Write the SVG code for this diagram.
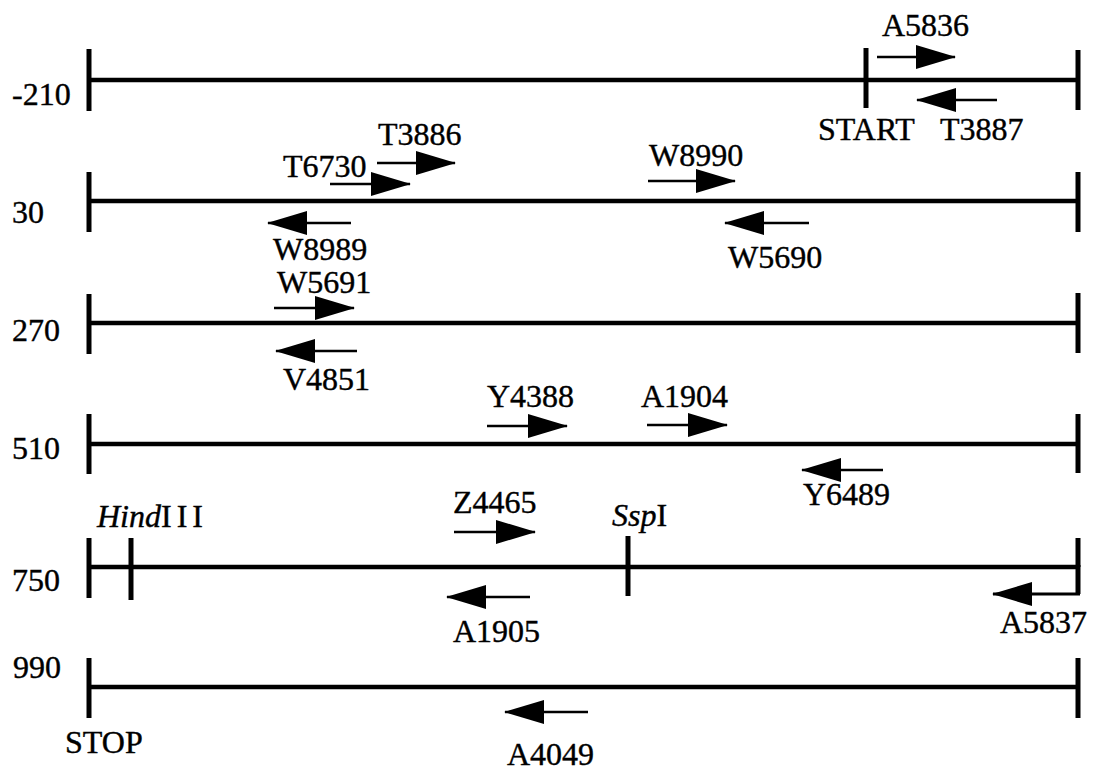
<svg xmlns="http://www.w3.org/2000/svg" width="1097" height="778" viewBox="0 0 1097 778">
<style>
text{font-family:"Liberation Serif","Times New Roman",serif;font-size:32px;fill:#000;stroke:#000;stroke-width:0.4}
.it{font-style:italic}
.bb{stroke:#000;stroke-width:4.5;fill:none;stroke-linecap:butt}
.tk{stroke:#000;stroke-width:5;fill:none}
.ar{stroke:#000;stroke-width:2.5;fill:none;marker-end:url(#h)}
</style>
<defs>
<marker id="h" markerUnits="userSpaceOnUse" viewBox="0 0 40 24" markerWidth="40" markerHeight="24" refX="39" refY="12" orient="auto">
<path d="M0,0 L40,12 L0,24 Z" fill="#000"/>
</marker>
</defs>
<rect width="1097" height="778" fill="#fff"/>
<g id="row1">
<line class="bb" x1="89" y1="80" x2="1078" y2="80"/>
<line class="tk" x1="89" y1="49" x2="89" y2="111"/>
<line class="tk" x1="866" y1="48" x2="866" y2="108"/>
<line class="tk" x1="1078" y1="50" x2="1078" y2="110"/>
<text x="12" y="105">-210</text>
<text x="818" y="140">START</text>
</g>
<g id="row2">
<line class="bb" x1="89" y1="201" x2="1078" y2="201"/>
<line class="tk" x1="89" y1="172" x2="89" y2="232"/>
<line class="tk" x1="1078" y1="172" x2="1078" y2="232"/>
<text x="12" y="223">30</text>
</g>
<g id="row3">
<line class="bb" x1="89" y1="323" x2="1078" y2="323"/>
<line class="tk" x1="89" y1="294" x2="89" y2="354"/>
<line class="tk" x1="1078" y1="293" x2="1078" y2="353"/>
<text x="12" y="341">270</text>
</g>
<g id="row4">
<line class="bb" x1="89" y1="444" x2="1078" y2="444"/>
<line class="tk" x1="89" y1="414" x2="89" y2="474"/>
<line class="tk" x1="1078" y1="414" x2="1078" y2="473"/>
<text x="12" y="459">510</text>
</g>
<g id="row5">
<line class="bb" x1="89" y1="567" x2="1078" y2="567"/>
<line class="tk" x1="89" y1="538" x2="89" y2="598"/>
<line class="tk" x1="131" y1="538" x2="131" y2="600"/>
<line class="tk" x1="628" y1="536" x2="628" y2="596"/>
<line class="tk" x1="1078" y1="538" x2="1078" y2="567"/>
<text x="12" y="591">750</text>
<text x="97" y="527"><tspan class="it">Hind</tspan><tspan letter-spacing="5">III</tspan></text>
<text x="612" y="526"><tspan class="it">Ssp</tspan>I</text>
</g>
<g id="row6">
<line class="bb" x1="89" y1="687" x2="1078" y2="687"/>
<line class="tk" x1="89" y1="658" x2="89" y2="718"/>
<line class="tk" x1="1078" y1="658" x2="1078" y2="718"/>
<text x="13" y="678">990</text>
<text x="65" y="753">STOP</text>
</g>
<g id="primers">
<line class="ar" x1="877" y1="57" x2="955" y2="57"/>
<line class="ar" x1="997" y1="100" x2="917" y2="100"/>
<line class="ar" x1="377" y1="163" x2="455" y2="163"/>
<line class="ar" x1="330" y1="184" x2="410" y2="184"/>
<line class="ar" x1="648" y1="181" x2="735" y2="181"/>
<line class="ar" x1="351" y1="223" x2="268" y2="223"/>
<line class="ar" x1="809" y1="223" x2="725" y2="223"/>
<line class="ar" x1="274" y1="308" x2="354" y2="308"/>
<line class="ar" x1="357" y1="351" x2="276" y2="351"/>
<line class="ar" x1="487" y1="426" x2="567" y2="426"/>
<line class="ar" x1="647" y1="425" x2="727" y2="425"/>
<line class="ar" x1="883" y1="470" x2="802" y2="470"/>
<line class="ar" x1="454" y1="532" x2="535" y2="532"/>
<line class="ar" x1="530" y1="597" x2="447" y2="597"/>
<line class="ar" x1="588" y1="712" x2="505" y2="712"/>
<path class="tk" d="M1078,565 L1078,594"/>
<path class="ar" d="M1080,594 L993,594" style="stroke-width:3"/>
</g>
<g id="labels">
<text x="882" y="36">A5836</text>
<text x="940" y="140">T3887</text>
<text x="378" y="145">T3886</text>
<text x="283" y="177">T6730</text>
<text x="649" y="166">W8990</text>
<text x="273" y="260">W8989</text>
<text x="728" y="268">W5690</text>
<text x="277" y="293">W5691</text>
<text x="283" y="390">V4851</text>
<text x="487" y="407">Y4388</text>
<text x="641" y="407">A1904</text>
<text x="803" y="505">Y6489</text>
<text x="453" y="513">Z4465</text>
<text x="453" y="642">A1905</text>
<text x="1000" y="633">A5837</text>
<text x="507" y="765">A4049</text>
</g>
</svg>
